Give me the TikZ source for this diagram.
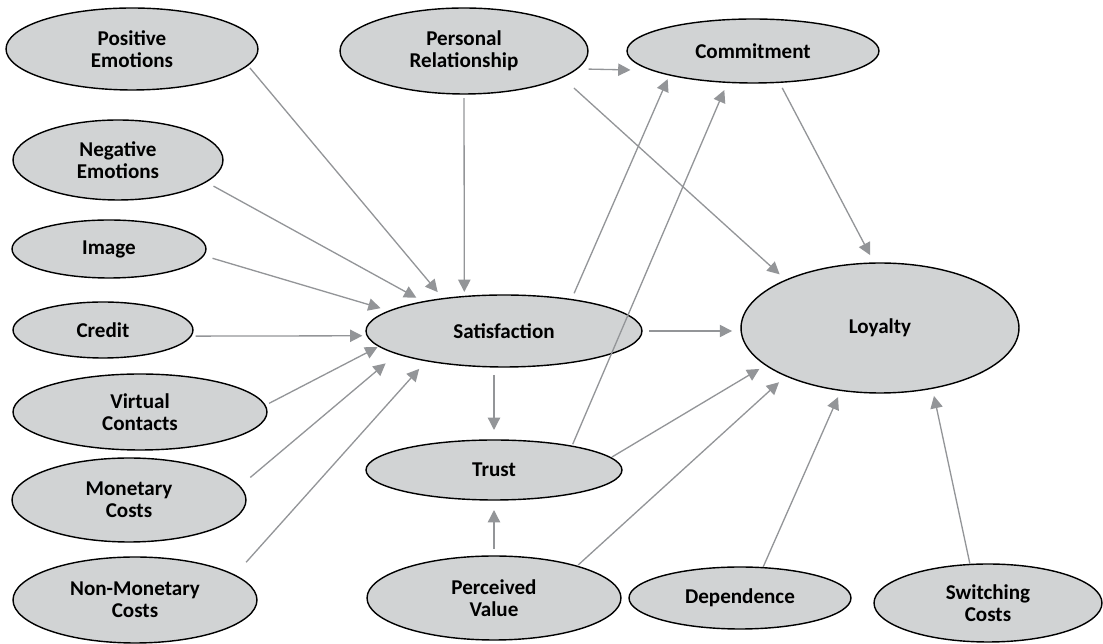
\documentclass[tikz,border=0pt]{standalone}
\usepackage{fontspec}
\setmainfont{Carlito}
\usetikzlibrary{shapes.geometric,arrows.meta,calc}
\definecolor{ovalgray}{RGB}{209,211,212}
\definecolor{linegray}{RGB}{147,149,152}

\begin{document}
\begin{tikzpicture}[x=0.02cm,y=-0.02cm,
  factor/.style={ellipse,draw=black,line width=0.8pt,fill=ovalgray,inner sep=0pt,outer sep=0pt,align=center,font=\fontsize{12}{12.6}\selectfont\bfseries},
  link/.style={draw=linegray,line width=0.75pt,-{Triangle[length=7pt,width=7pt]}}]
\useasboundingbox (0,0) rectangle (1103,644);
% left column
\node[factor,minimum width=5.04cm,minimum height=1.64cm] (pos) at (132,49) {Positive\\Emotions};
\node[factor,minimum width=4.2cm,minimum height=1.6cm] (neg) at (118,160) {Negative\\Emotions};
\node[factor,minimum width=3.88cm,minimum height=1.16cm] (img) at (109,249) {Image};
\node[factor,minimum width=3.6cm,minimum height=1.12cm] (cred) at (103,330) {Credit};
\node[factor,minimum width=5.08cm,minimum height=1.52cm] (virt) at (140,412) {Virtual\\Contacts};
\node[factor,minimum width=4.68cm,minimum height=1.68cm] (mon) at (129,500) {Monetary\\Costs};
\node[factor,minimum width=4.88cm,minimum height=1.72cm] (nonmon) at (135,600) {Non-Monetary\\Costs};
% middle and right
\node[factor,minimum width=4.96cm,minimum height=1.72cm] (pers) at (464,51) {Personal\\Relationship};
\node[factor,minimum width=5.04cm,minimum height=1.28cm] (comm) at (753,51) {Commitment};
\node[factor,minimum width=5.52cm,minimum height=1.44cm] (sat) at (504,331) {Satisfaction};
\node[factor,minimum width=5.12cm,minimum height=1.2cm] (trust) at (494,470) {Trust};
\node[factor,minimum width=5.56cm,minimum height=2.6cm] (loy) at (880,328) {Loyalty};
\node[factor,minimum width=5.08cm,minimum height=1.68cm] (perc) at (494,598) {Perceived\\Value};
\node[factor,minimum width=4.44cm,minimum height=1.24cm] (dep) at (740,598) {Dependence};
\node[factor,minimum width=4.56cm,minimum height=1.56cm] (sw) at (988,603) {Switching\\Costs};
% paths into satisfaction
\draw[link,shorten <=2pt,shorten >=4.9pt] (pos.-8) -- (sat.152);
\draw[link,shorten <=5pt,shorten >=4.7pt] (neg.-14.8) -- (sat.160.5);
\draw[link,shorten <=5.4pt,shorten >=5.4pt] (img.-4.4) -- (sat.170.7);
\draw[link,shorten <=2.8pt,shorten >=2.8pt] (cred.-4.5) -- (sat.-178.3);
\draw[link,shorten <=2.6pt,shorten >=1.1pt] (virt.3.2) -- (sat.-173.1);
\draw[link,shorten <=7.9pt,shorten >=8.5pt] (mon.7.2) -- (sat.-168.4);
\draw[link,shorten <=9.9pt,shorten >=6.2pt] (nonmon.14.1) -- (sat.-159);
\draw[link,shorten <=2.3pt,shorten >=2.6pt] (pers.south) -- (sat.139.2);
% commitment
\draw[link,shorten <=6.7pt,shorten >=12.8pt] (pers.-9.7) -- (comm.-169.4);
\draw[link,shorten <=3.9pt,shorten >=2.6pt] (sat.25.9) -- (comm.-164.2);
\draw[link,shorten <=1.2pt,shorten >=4.8pt] (trust.17.3) -- (comm.-129.4);
% loyalty
\draw[link,shorten <=9.1pt,shorten >=4.9pt] (pers.-15.9) -- (loy.153.7);
\draw[link,shorten <=3.6pt,shorten >=5.1pt] (comm.-50.3) -- (loy.95.1);
\draw[link,shorten <=4pt,shorten >=5.1pt] (sat.east) -- (sat.east -| loy.west);
\draw[link,shorten <=0.8pt,shorten >=4.3pt] (trust.6) -- (loy.-162.7);
\draw[link,shorten <=1pt,shorten >=5.4pt] (perc.21) -- (loy.-153.4);
\draw[link,shorten <=0.5pt,shorten >=4.2pt] (dep.53.9) -- (loy.-122.7);
\draw[link,shorten <=0.5pt,shorten >=4.5pt] (sw.115.2) -- (loy.-49);
% trust
\draw[link,shorten <=4.5pt,shorten >=5.7pt] (trust.north |- sat.south) -- (trust.north);
\draw[link,shorten <=4pt,shorten >=5.7pt] (perc.north) -- (trust.south);
\end{tikzpicture}
\end{document}
